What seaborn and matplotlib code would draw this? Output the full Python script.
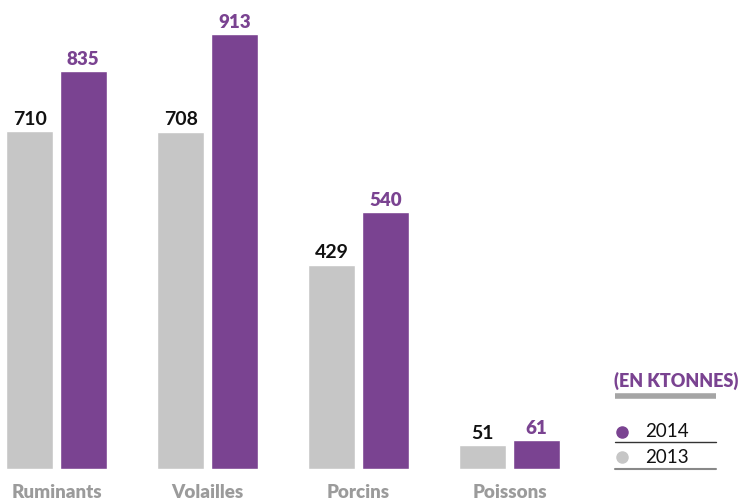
import matplotlib
matplotlib.use("Agg")
import matplotlib.pyplot as plt
import seaborn as sns
import pandas as pd
from matplotlib.lines import Line2D

categories = ["Ruminants", "Volailles", "Porcins", "Poissons"]
values_2013 = [710, 708, 429, 51]
values_2014 = [835, 913, 540, 61]
years = ["2013", "2014"]
unit_label = "(EN KTONNES)"

GRAY = "#C6C6C6"
PURPLE = "#7A4391"

df = pd.DataFrame({
    "cat": categories * 2,
    "year": ["2013"] * 4 + ["2014"] * 4,
    "val": values_2013 + values_2014,
})

sns.set_theme(style="white")
plt.rcParams["font.family"] = ["Lato", "DejaVu Sans"]

fig = plt.figure(figsize=(7.41, 5.02), dpi=100)
ax = fig.add_axes([0, 32 / 502, 1, 470 / 502])
sns.barplot(data=df, x="cat", y="val", hue="year", hue_order=years,
            palette=[GRAY, PURPLE], width=0.71, gap=0.12, ax=ax,
            legend=False, saturation=1)
ax.set_xlim(-56.5 / 151, (741 - 56.5) / 151)
ax.set_ylim(0, 470 / 0.4765)
for s in ax.spines.values():
    s.set_visible(False)
ax.set_yticks([])
ax.set_xlabel("")
ax.set_ylabel("")
ax.tick_params(axis="x", length=0, pad=10)
for t in ax.get_xticklabels():
    t.set_color("#9B9B9B")
    t.set_fontweight("heavy")
    t.set_fontsize(13.5)

ax.bar_label(ax.containers[0], color="#111111", fontsize=14, fontweight="bold", padding=3)
ax.bar_label(ax.containers[1], color=PURPLE, fontsize=13.5, fontweight="heavy", padding=3)

# legend (manual)
fig.text(676 / 741, 1 - 381 / 502, unit_label, color=PURPLE, fontsize=13,
         fontweight="heavy", ha="center", va="center")
fig.add_artist(Line2D([615 / 741, 716 / 741], [1 - 397 / 502] * 2, color="#A5A5A5", lw=4,
                      solid_capstyle="butt"))
fig.add_artist(Line2D([615 / 741, 716 / 741], [1 - 443 / 502] * 2, color="#333333", lw=1))
fig.add_artist(Line2D([615 / 741, 716 / 741], [1 - 470 / 502] * 2, color="#888888", lw=1.5))
fig.add_artist(Line2D([622 / 741], [1 - 433 / 502], marker="o", markersize=8,
                      color=PURPLE, lw=0))
fig.add_artist(Line2D([622 / 741], [1 - 458 / 502], marker="o", markersize=8,
                      color=GRAY, lw=0))
fig.text(645 / 741, 1 - 432 / 502, years[1], color="#111111", fontsize=13.5, va="center")
fig.text(645 / 741, 1 - 458 / 502, years[0], color="#111111", fontsize=13.5, va="center")

fig.savefig("out.png", dpi=100)
